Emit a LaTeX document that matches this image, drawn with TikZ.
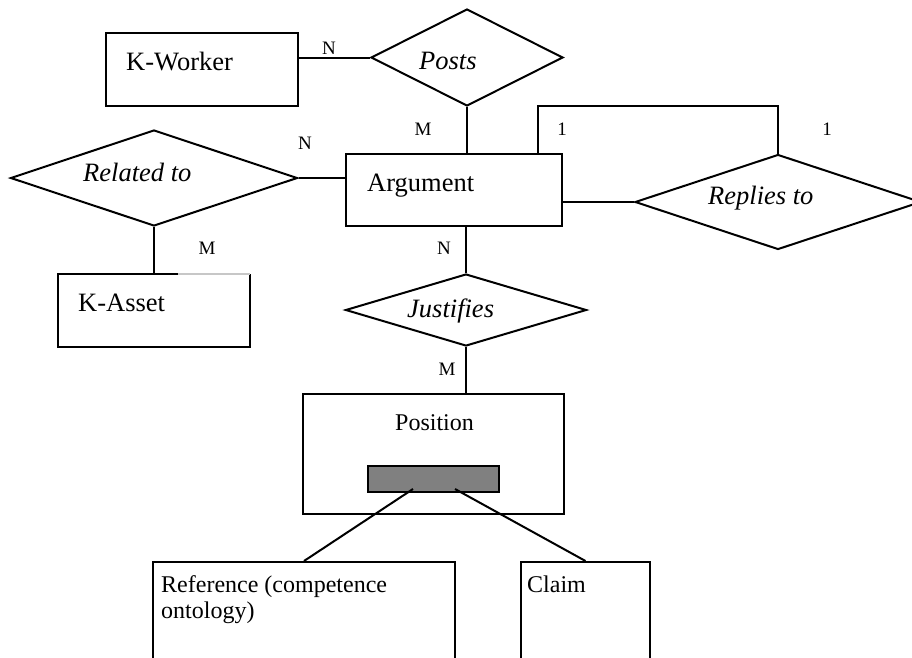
\documentclass[tikz,border=0pt]{standalone}
\usepackage{fontspec}
\setmainfont{Liberation Serif}
\usetikzlibrary{shapes.geometric}
\tikzset{
  entity/.style={draw, rectangle, line width=2pt, inner sep=0pt},
  relation/.style={draw, diamond, line width=2pt, inner sep=0pt},
  conn/.style={line width=2pt},
  txt/.style={anchor=base west, inner sep=0pt, font=\fontsize{26.5}{31}\selectfont},
  smalltxt/.style={anchor=base west, inner sep=0pt, font=\fontsize{24}{28}\selectfont},
  reltxt/.style={txt, font=\fontsize{26.5}{31}\selectfont\itshape},
  card/.style={inner sep=0pt, font=\fontsize{19}{22}\selectfont},
}
\begin{document}
\begin{tikzpicture}[x=1pt, y=-1pt]
  \useasboundingbox (0,0) rectangle (912,657);
  \clip (0,0) rectangle (912,657);

  % entities
  \node[entity, minimum width=192pt, minimum height=73pt] (kworker) at (202,69.5) {};
  \node[entity, minimum width=216pt, minimum height=72pt] (argument) at (454,190) {};
  \node[entity, minimum width=261pt, minimum height=120pt] (position) at (433.5,454) {};
  \node[entity, minimum width=302pt, minimum height=138pt] (reference) at (304,631) {};
  \node[entity, minimum width=129pt, minimum height=138pt] (claim) at (585.5,631) {};
  \node[draw, line width=1.6pt, fill=black!50, minimum width=131pt, minimum height=26pt, inner sep=0pt] (bar) at (433.5,479) {};

  % K-Asset box: its top edge fades to grey on the right
  \coordinate (kaNW) at (58,274);
  \coordinate (kaSE) at (250,347);
  \coordinate (kaMid) at (178,274);
  \node[inner sep=0pt, minimum width=192pt, minimum height=73pt] (kasset) at (154,310.5) {};
  \draw[conn] (kaMid) -- (kaNW) |- (kaSE) -- (kaSE |- kaNW);
  \draw[line width=2pt, black!22] (kaMid) -- (kaSE |- kaNW);

  % relationships
  \node[relation, minimum width=192pt, minimum height=97pt] (posts) at (467,57.5) {};
  \node[relation, minimum width=287pt, minimum height=96pt] (related) at (154,178) {};
  \node[relation, minimum width=286pt, minimum height=95pt] (replies) at (778,202) {};
  \node[relation, minimum width=241pt, minimum height=72pt] (justifies) at (466,310) {};

  % texts
  \node[txt] (tkworker) at (126,70) {K-Worker};
  \node[txt] (targument) at (367,191) {Argument};
  \node[txt] (tkasset) at (78,311) {K-Asset};
  \node[smalltxt] (tposition) at (395,430) {Position};
  \node[smalltxt] (tref1) at (161,592) {Reference (competence};
  \node[smalltxt] (tref2) at (161,618) {ontology)};
  \node[smalltxt] (tclaim) at (527,592) {Claim};
  \node[reltxt] (tposts) at (419,69) {Posts};
  \node[reltxt] (trelated) at (83,181) {Related to};
  \node[reltxt] (treplies) at (708,204) {Replies to};
  \node[reltxt] (tjustifies) at (407,317) {Justifies};

  % cardinalities
  \node[card] (c1) at (329,48) {N};
  \node[card] (c2) at (423,129) {M};
  \node[card] (c3) at (305,143) {N};
  \node[card] (c4) at (207,248) {M};
  \node[card] (c5) at (562,129) {1};
  \node[card] (c6) at (827,129) {1};
  \node[card] (c7) at (444,248) {N};
  \node[card] (c8) at (447,369) {M};

  % connectors
  \draw[conn] (posts.west) -- (posts.west -| kworker.east);
  \draw[conn] (posts.south) -- (posts.south |- argument.north);
  \draw[conn] (related.east) -- (related.east -| argument.west);
  \draw[conn] (related.south) -- (related.south |- kasset.north);
  \draw[conn] (replies.west) -- (replies.west -| argument.east);
  \coordinate (loop) at (538,106);
  \draw[conn] (loop |- argument.north) -- (loop) -| (replies.north);
  \draw[conn] (justifies.north) -- (justifies.north |- argument.south);
  \draw[conn] (justifies.south) -- (justifies.south |- position.north);
  \coordinate (barL) at (413,489);
  \coordinate (barR) at (455,489);
  \draw[conn] (barL) -- (reference.north);
  \draw[conn] (barR) -- (claim.north);
\end{tikzpicture}
\end{document}
